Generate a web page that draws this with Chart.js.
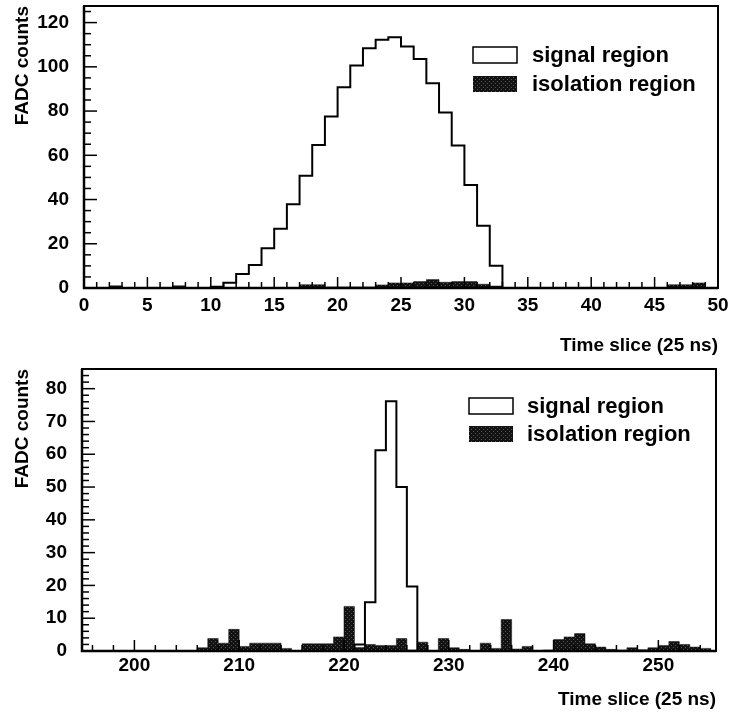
<!DOCTYPE html>
<html>
<head>
<meta charset="utf-8">
<script src="https://cdn.jsdelivr.net/npm/chart.js@4.4.1/dist/chart.umd.min.js"></script>
<style>
  body{margin:0;background:#fff}
  canvas{display:block}
</style>
</head>
<body>
<canvas id="chartTop" width="729" height="362"></canvas>
<canvas id="chartBottom" width="729" height="362"></canvas>
<script>
/* two FADC pulse histograms, signal vs isolation region */

const xTitle = 'Time slice (25 ns)';
const yTitle = 'FADC counts';
const legendLabels = ['signal region', 'isolation region'];

// top panel: bins 0..49
const topBinStart = 0;
const topSignal = [
  0,0,0,0,0,0,0,0,0,0,
  0.6,2.4,6.3,10.4,18,26.8,37.9,50.8,64.6,77.5,
  90.8,100.6,108.4,112.2,113.4,109.2,103.5,92.6,79.3,64.4,
  46.6,28.2,10.1,0,0,0,0,0,0,0,
  0,0,0,0,0,0,0,0,0,0
];
const topIsolation = [
  0,0,1,0,0,0,0,1,0,0,
  0,0,0,0,0,0,0,1.5,1.5,0.5,
  0.5,0.5,0.5,1.4,2.3,2.3,2.9,3.8,2.6,2.9,
  2.9,1.7,0.9,0,0,0,0,0,0,0,
  0,0,0,0,0,0,1.5,1.5,2.3,0
];
const topXTicks = [0,5,10,15,20,25,30,35,40,45,50];
const topYTicks = [0,20,40,60,80,100,120];

// bottom panel: bins 195..255
const bottomBinStart = 195;
const bottomSignal = [
  0,0,0,0,0,0,0,0,0,0,
  0,0,0,0,0,0,0,0,0,0,
  0,0,0,0,0,0,2,14.9,61.2,76.2,
  50,19.7,0,0,0,0,0,0,0,0,
  0,0,0,0,0,0,0,0,0,0,
  0,0,0,0,0,0,0,0,0,0,
  0
];
const bottomIsolation = [
  0,0,0,0,0,0,0,0,0,0,
  0,1,3.8,2.4,6.6,1.4,2.4,2.4,2.4,0.8,
  0,2.2,2.2,2.2,4.3,13.6,1.1,2,1.7,1.7,
  3.8,0.3,2.7,0,3.8,1,0.5,0,2.4,0.8,
  9.6,0.6,1.4,0,0.3,3.5,4.3,5.3,2.2,1.2,
  0.5,0.3,1,0.4,1,1.7,2.9,2,1.2,0.8,
  0
];
const bottomXTicks = [200,210,220,230,240,250];
const bottomYTicks = [0,10,20,30,40,50,60,70,80];

const FONT = '"Liberation Sans", Arial, Helvetica, sans-serif';

// histogram as stepped line: one point per bin lower edge plus closing edge
function steps(start, vals){
  const pts = vals.map((v,i)=>({x:start+i, y:v}));
  pts.push({x:start+vals.length, y:vals[vals.length-1]});
  return pts;
}

function speckle(){
  const c = document.createElement('canvas');
  c.width = 4; c.height = 4;
  const g = c.getContext('2d');
  g.fillStyle = '#121212'; g.fillRect(0,0,4,4);
  g.fillStyle = '#555'; g.fillRect(1,1,1,1); g.fillRect(3,3,1,1);
  return g.createPattern(c, 'repeat');
}
const isoFill = speckle();

// frame + inward ROOT-style ticks
const histFrame = {
  id:'histFrame',
  afterDraw(chart, args, o){
    const {ctx, chartArea:a, scales:{x, y}} = chart;
    ctx.save();
    ctx.strokeStyle = '#000';
    ctx.lineWidth = 1.5;
    const isMajor = (v, m) => Math.abs(v/m - Math.round(v/m)) < 1e-6;
    for(let v = Math.ceil(x.min/o.xMinor)*o.xMinor; v <= x.max+1e-9; v += o.xMinor){
      const px = x.getPixelForValue(v);
      const len = isMajor(v, o.xMajor) ? o.majorLen : o.minorLen;
      ctx.beginPath(); ctx.moveTo(px, a.bottom); ctx.lineTo(px, a.bottom-len); ctx.stroke();
    }
    for(let v = Math.ceil(y.min/o.yMinor)*o.yMinor; v <= y.max+1e-9; v += o.yMinor){
      const py = y.getPixelForValue(v);
      const len = isMajor(v, o.yMajor) ? o.majorLen+2 : o.minorLen+1;
      ctx.beginPath(); ctx.moveTo(a.left, py); ctx.lineTo(a.left+len, py); ctx.stroke();
    }
    ctx.lineWidth = 2;
    ctx.strokeRect(a.left, a.top, a.right-a.left, a.bottom-a.top);
    ctx.lineWidth = 2.5;
    ctx.beginPath();
    ctx.moveTo(a.left, a.top); ctx.lineTo(a.left, a.bottom); ctx.lineTo(a.right, a.bottom);
    ctx.stroke();
    ctx.restore();
  }
};

const histLegend = {
  id:'histLegend',
  afterDatasetsDraw(chart, args, o){
    const {ctx, chartArea:a} = chart;
    const x0 = a.right - o.fromRight;
    ctx.save();
    ctx.font = 'bold 22px ' + FONT;
    ctx.textBaseline = 'middle';
    chart.data.datasets.forEach((ds, i) => {
      const y0 = a.top + o.fromTop + i*o.gap;
      if(ds.fill){
        ctx.fillStyle = ds.backgroundColor;
        ctx.fillRect(x0, y0, 44, 16);
      } else {
        ctx.fillStyle = '#fff';
        ctx.fillRect(x0, y0, 44, 16);
        ctx.strokeStyle = '#000'; ctx.lineWidth = 1.5;
        ctx.strokeRect(x0, y0, 44, 16);
      }
      ctx.fillStyle = '#000';
      ctx.fillText(ds.label, x0 + o.textGap, y0 + 9);
    });
    ctx.restore();
  }
};

function makeChart(id, p){
  return new Chart(document.getElementById(id), {
    type:'line',
    data:{datasets:[
      {label:legendLabels[0], data:steps(p.start, p.signal), stepped:true, fill:false,
       borderColor:'#000', borderWidth:2, pointRadius:0, order:0},
      {label:legendLabels[1], data:steps(p.start, p.iso), stepped:true, fill:'origin',
       backgroundColor:isoFill, borderColor:'#111', borderWidth:0.5, pointRadius:0, order:1}
    ]},
    options:{
      responsive:false, animation:false,
      layout:{padding:{top:p.padTop, right:p.padRight, left:0, bottom:0}},
      plugins:{
        legend:{display:false}, tooltip:{enabled:false},
        histFrame:p.frame, histLegend:p.legend
      },
      scales:{
        x:{
          type:'linear', min:p.xMin, max:p.xMax,
          afterBuildTicks: s => { s.ticks = p.xTicks.map(v=>({value:v})); },
          afterFit: s => { s.height = p.xHeight; s.paddingLeft = 0; s.paddingRight = 0; },
          grid:{display:false, drawTicks:false}, border:{display:false},
          ticks:{color:'#000', font:{family:FONT, size:19, weight:'bold'}, padding:p.xPad, maxRotation:0, autoSkip:false},
          title:{display:true, text:xTitle, align:'end', color:'#000',
                 font:{family:FONT, size:19, weight:'bold'}, padding:{top:0, bottom:p.xTitlePad}}
        },
        y:{
          type:'linear', min:0, max:p.yMax,
          afterBuildTicks: s => { s.ticks = p.yTicks.map(v=>({value:v})); },
          afterFit: s => { s.width = p.yWidth; s.paddingTop = 0; s.paddingBottom = 0; },
          grid:{display:false, drawTicks:false}, border:{display:false},
          ticks:{color:'#000', font:{family:FONT, size:19, weight:'bold'}, padding:15},
          title:{display:true, text:yTitle, align:'end', color:'#000',
                 font:{family:FONT, size:19, weight:'bold'}, padding:{top:11, bottom:0}}
        }
      }
    },
    plugins:[histFrame, histLegend]
  });
}

makeChart('chartTop', {
  start:topBinStart, signal:topSignal, iso:topIsolation,
  xMin:0, xMax:50, yMax:127.5, xTicks:topXTicks, yTicks:topYTicks,
  padTop:6, padRight:11, xHeight:74, yWidth:84, xPad:6, xTitlePad:5,
  frame:{xMinor:1, xMajor:5, yMinor:5, yMajor:20, majorLen:11, minorLen:6},
  legend:{fromRight:245, fromTop:41, gap:29, textGap:59}
});

makeChart('chartBottom', {
  start:bottomBinStart, signal:bottomSignal, iso:bottomIsolation,
  xMin:195, xMax:255.5, yMax:86, xTicks:bottomXTicks, yTicks:bottomYTicks,
  padTop:7, padRight:13, xHeight:73, yWidth:82, xPad:3, xTitlePad:13,
  frame:{xMinor:2, xMajor:10, yMinor:2, yMajor:10, majorLen:11, minorLen:6},
  legend:{fromRight:247, fromTop:29, gap:28, textGap:58}
});
</script>
</body>
</html>
